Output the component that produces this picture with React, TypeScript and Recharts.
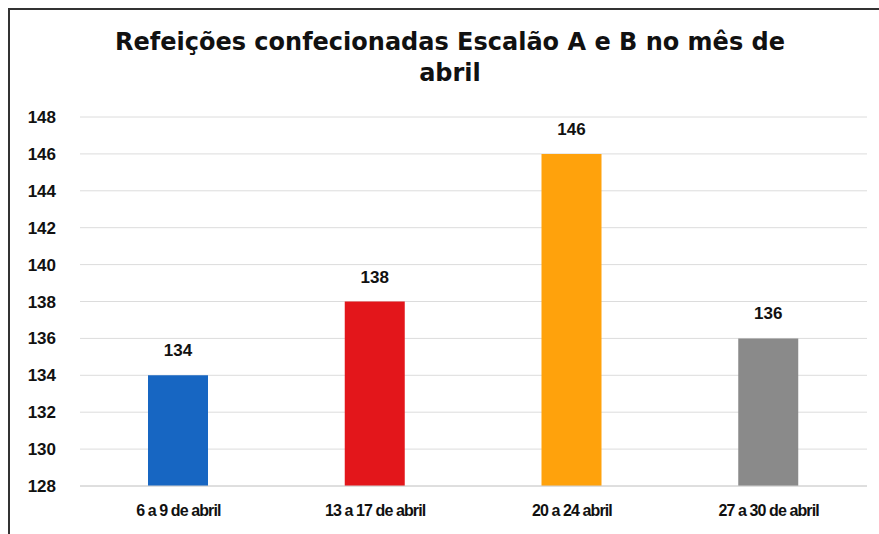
import { BarChart, Bar, XAxis, YAxis, CartesianGrid, Cell, LabelList } from 'recharts';

const periods = ['6 a 9 de abril', '13 a 17 de abril', '20 a 24 abril', '27 a 30 de abril'];
const meals = [134, 138, 146, 136];
const barColors = ['#1766c2', '#e3161b', '#ffa20c', '#8a8a8a'];
const yTicks = [128, 130, 132, 134, 136, 138, 140, 142, 144, 146, 148];

const data = periods.map((p, i) => ({ period: p, meals: meals[i] }));

export default function App() {
  return (
    <div style={{ position: 'absolute', left: 0, top: 0, width: 879, height: 534, background: '#fff', overflow: 'hidden' }}>
      <div style={{ position: 'absolute', left: 8, top: 8, width: 880, height: 540, borderTop: '2px solid #333', borderLeft: '2px solid #333' }} />
      <div style={{ position: 'absolute', left: 0, top: 27, width: 900, textAlign: 'center', fontFamily: 'DejaVu Sans', fontWeight: 'bold', fontSize: 24, lineHeight: '31px', color: '#111' }}>
        Refeições confecionadas Escalão A e B no mês de<br />abril
      </div>
      <BarChart width={879} height={534} data={data} margin={{ top: 117, right: 12, left: 0, bottom: 18 }} style={{ position: 'absolute', left: 0, top: 0 }}>
        <CartesianGrid vertical={false} stroke="#dcdcdc" />
        <XAxis dataKey="period" tickLine={false} axisLine={{ stroke: '#d0d0d0' }} interval={0}
          tick={{ fill: '#111', fontFamily: 'Liberation Sans', fontWeight: 'bold', fontSize: 16, letterSpacing: -0.9 }} tickMargin={13} />
        <YAxis domain={[128, 148]} ticks={yTicks} width={80} tickLine={false} axisLine={false} tickMargin={18}
          tick={{ fill: '#111', fontFamily: 'Liberation Sans', fontWeight: 'bold', fontSize: 17 }} />
        <Bar dataKey="meals" barSize={60} isAnimationActive={false}>
          {data.map((d, i) => <Cell key={d.period} fill={barColors[i]} />)}
          <LabelList dataKey="meals" position="top" offset={19}
            style={{ fill: '#111', fontFamily: 'Liberation Sans', fontWeight: 'bold', fontSize: 17 }} />
        </Bar>
      </BarChart>
    </div>
  );
}
